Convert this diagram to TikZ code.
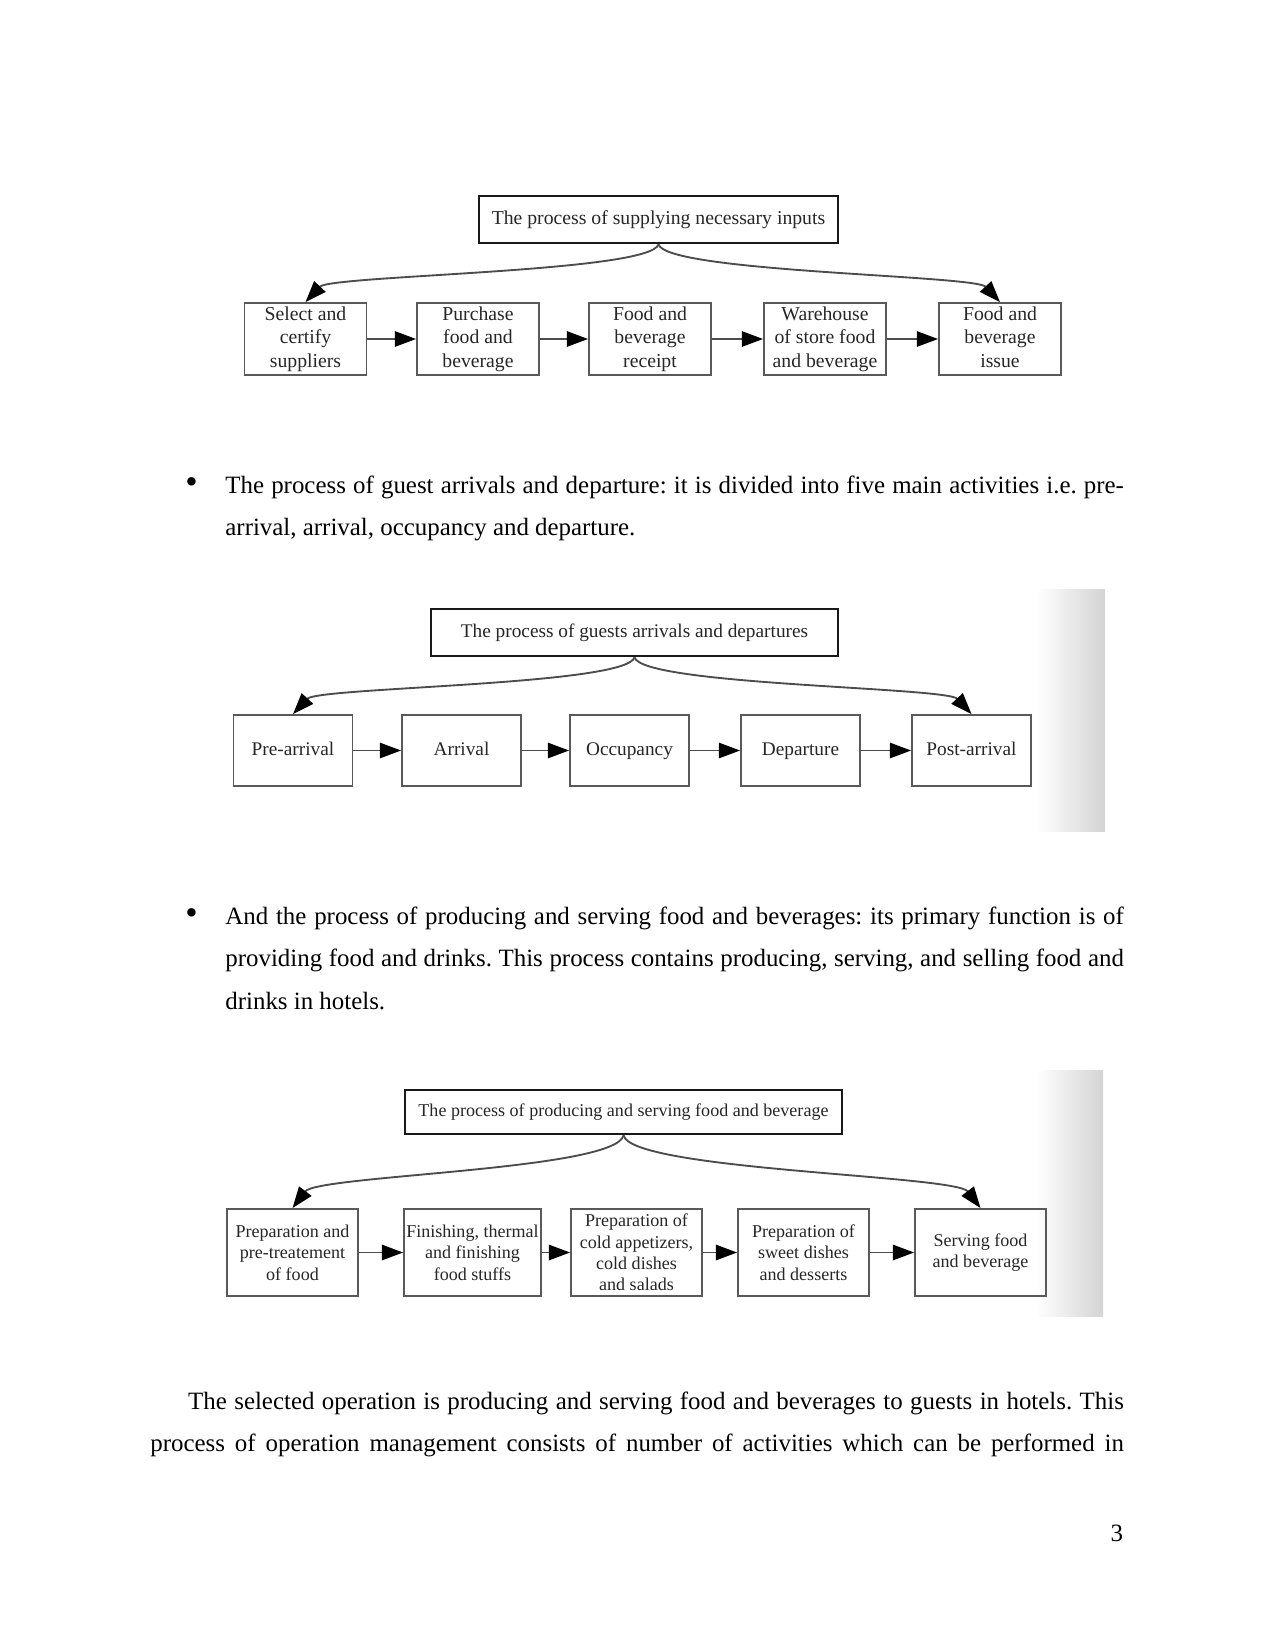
\documentclass[tikz,border=0pt]{standalone}
\usepackage{fontspec}
\setmainfont{Liberation Serif}
\usetikzlibrary{arrows.meta,positioning}
\newcommand{\pxu}{0.016933cm}
\tikzset{
  headbox/.style={rectangle,draw=black!90,line width=1.3pt,text=black!85,
    inner sep=0pt,align=center},
  stepbox/.style={rectangle,draw=black!65,line width=0.9pt,text=black!85,
    inner sep=0pt,align=center},
  flow/.style={draw=black!70,line width=0.9pt,
    -{Triangle[length=3.6mm,width=2.6mm,color=black]}},
  body/.style={inner sep=0pt,font=\fontsize{12}{20.7}\selectfont\frenchspacing,
    align=justify},
  dotmark/.style={inner sep=0pt,font=\fontsize{17}{20.7}\selectfont},
  fadeband/.style={left color=white,right color=black!17}
}

\begin{document}
\begin{tikzpicture}[x=\pxu,y=-\pxu]
  \useasboundingbox (0,0) rectangle (1275,1650);

  % supplying inputs
  \node[headbox,minimum width=359*\pxu,minimum height=47*\pxu,
    font=\fontsize{9.5}{11.4}\selectfont] (sup) at (658.5,219.5)
    {The process of supplying necessary inputs};
  \begin{scope}[every node/.style={stepbox,minimum width=122*\pxu,
      minimum height=72*\pxu,font=\fontsize{9.5}{11.4}\selectfont}]
    \node (sup1) at (305.5,339) {Select and\\certify\\suppliers};
    \node (sup2) at (478,339) {Purchase\\food and\\beverage};
    \node (sup3) at (650,339) {Food and\\beverage\\receipt};
    \node (sup4) at (825,339) {Warehouse\\of store food\\and beverage};
    \node (sup5) at (1000,339) {Food and\\beverage\\issue\vphantom{g}};
  \end{scope}
  \foreach \a/\b in {sup1/sup2,sup2/sup3,sup3/sup4,sup4/sup5}
    \draw[flow] (\a) -- (\b);
  \draw[flow] (sup.south) .. controls +(-8,28) and +(25,-27) .. (sup1.north);
  \draw[flow] (sup.south) .. controls +(8,28) and +(-25,-27) .. (sup5.north);

  \node[dotmark,anchor=base] (dot1) at (191.5,493) {\textbullet};
  \node[body,anchor=base west,text width=898.5*\pxu] (par1) at (225,493)
    {The process of guest arrivals and departure: it is divided into five
    main activities i.e. pre-\linebreak arrival, arrival, occupancy and departure.};

  % guests arrivals and departures
  \shade[fadeband] (1036,589) rectangle (1105,831);
  \node[headbox,minimum width=407*\pxu,minimum height=47*\pxu,
    font=\fontsize{9.3}{11.2}\selectfont] (gst) at (634.5,632.5)
    {The process of guests arrivals and departures};
  \begin{scope}[every node/.style={stepbox,minimum width=119*\pxu,
      minimum height=71*\pxu,text height=7pt,text depth=2pt,
      font=\fontsize{9.3}{11.2}\selectfont}]
    \node (gst1) at (293,750.5) {Pre-arrival};
    \node (gst2) at (461.5,750.5) {Arrival};
    \node (gst3) at (629.5,750.5) {Occupancy};
    \node (gst4) at (800.5,750.5) {Departure};
    \node (gst5) at (971.5,750.5) {Post-arrival};
  \end{scope}
  \foreach \a/\b in {gst1/gst2,gst2/gst3,gst3/gst4,gst4/gst5}
    \draw[flow] (\a) -- (\b);
  \draw[flow] (gst.south) .. controls +(-8,28) and +(25,-27) .. (gst1.north);
  \draw[flow] (gst.south) .. controls +(8,28) and +(-25,-27) .. (gst5.north);

  \node[dotmark,anchor=base] (dot2) at (191.5,924) {\textbullet};
  \node[body,anchor=base west,text width=898.5*\pxu] (par2) at (225,924)
    {And the process of producing and serving food and beverages: its primary
    function is of\linebreak providing food and drinks. This process contains
    producing, serving, and selling food and\linebreak drinks in hotels.};

  % producing and serving food
  \shade[fadeband] (1036,1070) rectangle (1103,1316);
  \node[headbox,minimum width=437*\pxu,minimum height=44*\pxu,
    font=\fontsize{8.7}{10.3}\selectfont] (prd) at (623.5,1112)
    {The process of producing and serving food and beverage};
  \begin{scope}[every node/.style={stepbox,minimum width=131*\pxu,
      minimum height=87*\pxu,font=\fontsize{8.7}{10.3}\selectfont}]
    \node (prd1) at (292.5,1252.5) {Preparation and\\pre-treatement\\of food};
    \node[minimum width=137*\pxu] (prd2) at (472.5,1252.5)
      {Finishing, thermal\\and finishing\\food stuffs};
    \node (prd3) at (636.5,1252.5)
      {Preparation of\\cold appetizers,\\cold dishes\\and salads};
    \node (prd4) at (803.5,1252.5) {Preparation of\\sweet dishes\\and desserts};
    \node (prd5) at (980.5,1252.5) {Serving food\\and beverage};
  \end{scope}
  \foreach \a/\b in {prd1/prd2,prd2/prd3,prd3/prd4,prd4/prd5}
    \draw[flow] (\a) -- (\b);
  \draw[flow] (prd.south) .. controls +(-8,35) and +(25,-33) .. (prd1.north);
  \draw[flow] (prd.south) .. controls +(8,35) and +(-25,-33) .. (prd5.north);

  \node[body,anchor=base west,text width=973.5*\pxu] (par3) at (150,1409)
    {\hspace*{0.64cm}The selected operation is producing and serving food and
    beverages to guests in hotels. This\linebreak
    \makebox[\linewidth][s]{process of operation management consists of
    number of activities which can be performed in}};

  \node[body,anchor=base east] (pgno) at (1123.5,1541) {3};
\end{tikzpicture}
\end{document}
